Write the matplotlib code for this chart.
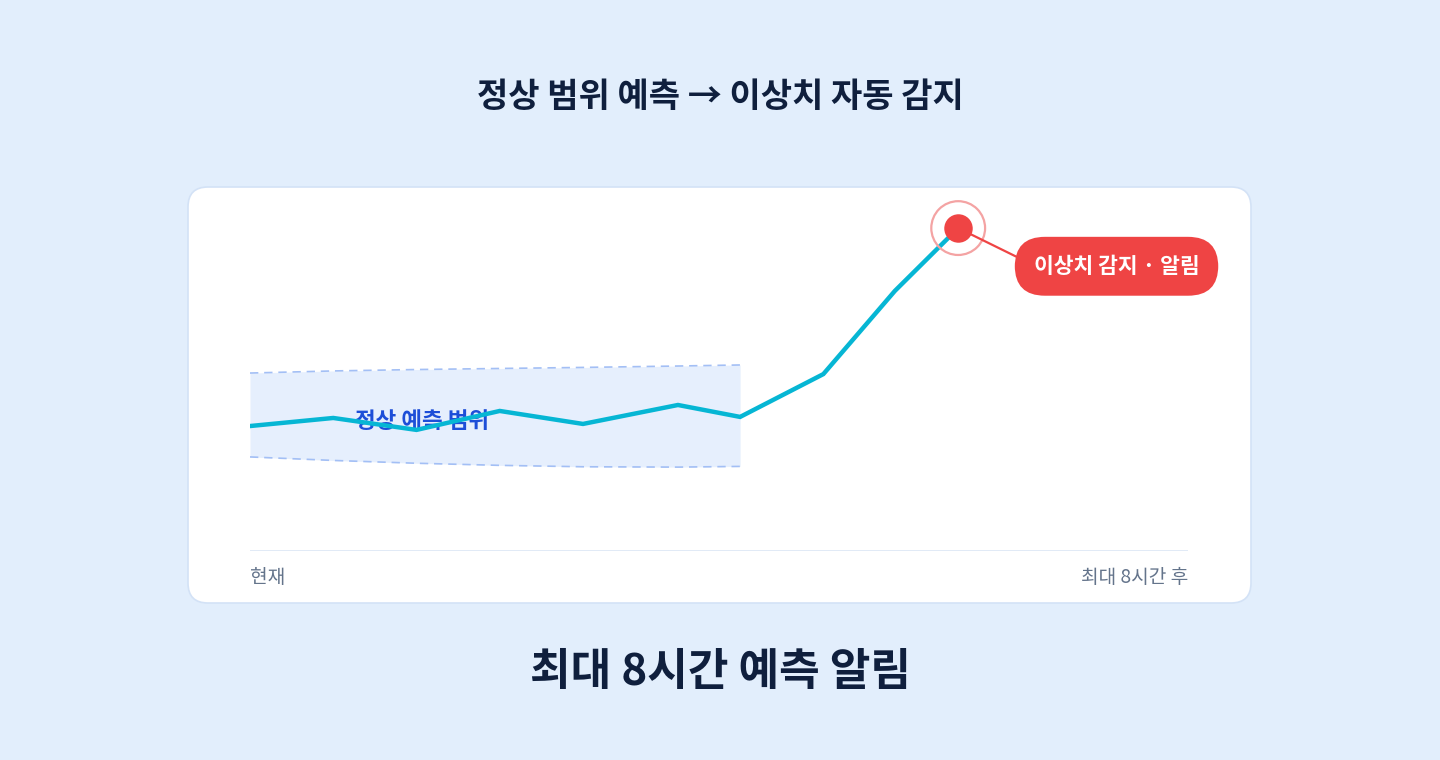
import matplotlib
matplotlib.use("Agg")
import matplotlib.pyplot as plt
from matplotlib.patches import FancyBboxPatch

plt.rcParams["font.family"] = ["Noto Sans CJK KR", "DejaVu Sans"]

# data: hours from now, metric value (0-100 scale)
hours = [0.0, 0.71, 1.42, 2.13, 2.84, 3.65, 4.18, 4.89, 5.50, 6.04]
values = [35.6, 37.9, 34.5, 39.9, 36.2, 41.6, 38.2, 50.4, 74.1, 92.0]

band_hours = [0.0, 0.71, 1.42, 2.13, 2.84, 3.65, 4.18]
band_upper = [50.7, 51.3, 51.7, 52.0, 52.3, 52.7, 53.0]
band_lower = [26.8, 25.8, 25.0, 24.4, 24.0, 23.9, 24.1]

title = "정상 범위 예측 → 이상치 자동 감지"
subtitle = "최대 8시간 예측 알림"
band_label = "정상 예측 범위"
alert_label = "이상치 감지 · 알림"
x_start_label = "현재"
x_end_label = "최대 8시간 후"

bg = "#e2eefc"
navy = "#0f1f3d"
cyan = "#06b6d4"
red = "#ef4444"

fig = plt.figure(figsize=(14.4, 7.6), dpi=100, facecolor=bg)

# background layer in pixel units for the card and titles
bg_ax = fig.add_axes([0, 0, 1, 1])
bg_ax.set_xlim(0, 1440)
bg_ax.set_ylim(760, 0)
bg_ax.axis("off")
card = FancyBboxPatch((188, 187), 1063, 416,
                      boxstyle="round,pad=0,rounding_size=20",
                      facecolor="white", edgecolor="#d3e2f6", linewidth=1.2)
bg_ax.add_patch(card)
bg_ax.text(720, 97, title, ha="center", va="center", fontsize=24.5,
           fontweight="bold", color=navy)
bg_ax.text(720, 672, subtitle, ha="center", va="center", fontsize=31.8,
           fontweight="bold", color=navy)

# chart axes
ax = fig.add_axes([250 / 1440, 209 / 760, 938 / 1440, 351 / 760])
ax.set_xlim(0, 8)
ax.set_ylim(0, 100)
ax.axis("off")

ax.fill_between(band_hours, band_lower, band_upper, color="#e6effd", zorder=1, linewidth=0)
ax.plot(band_hours, band_upper, color="#a3bff5", linewidth=1.2, linestyle=(0, (5, 3.5)), zorder=2)
ax.plot(band_hours, band_lower, color="#a3bff5", linewidth=1.2, linestyle=(0, (5, 3.5)), zorder=2)
ax.text(1.47, 36.9, band_label, ha="center", va="center", fontsize=16.2,
        fontweight="bold", color="#1d4ed8", zorder=3)

ax.axhline(0, color="#d8e4f4", linewidth=1.8, zorder=1)

ax.plot(hours, values, color=cyan, linewidth=3.2, solid_joinstyle="miter", zorder=4)

ax.scatter(hours[-1], values[-1], s=1500, facecolor="none", edgecolor="#f4a3a3",
           linewidth=1.6, zorder=5, clip_on=False)
ax.scatter(hours[-1], values[-1], s=380, color=red, zorder=6, clip_on=False)

ax.annotate(alert_label, xy=(hours[-1], values[-1]), xytext=(114, -27.5),
            textcoords="offset points", ha="center", va="center",
            fontsize=15.5, fontweight="bold", color="white",
            bbox=dict(boxstyle="round,pad=0.88,rounding_size=1.4", facecolor=red,
                      edgecolor="none"),
            arrowprops=dict(arrowstyle="-", color=red, linewidth=1.6,
                            relpos=(0, 0.55), shrinkA=0, shrinkB=9),
            annotation_clip=False, zorder=7)

ax.text(0, -7.6, x_start_label, ha="left", va="center", fontsize=13.8, color="#64748b",
        clip_on=False)
ax.text(8, -7.6, x_end_label, ha="right", va="center", fontsize=13.8, color="#64748b",
        clip_on=False)

fig.savefig("out.png", dpi=100, facecolor=bg)
